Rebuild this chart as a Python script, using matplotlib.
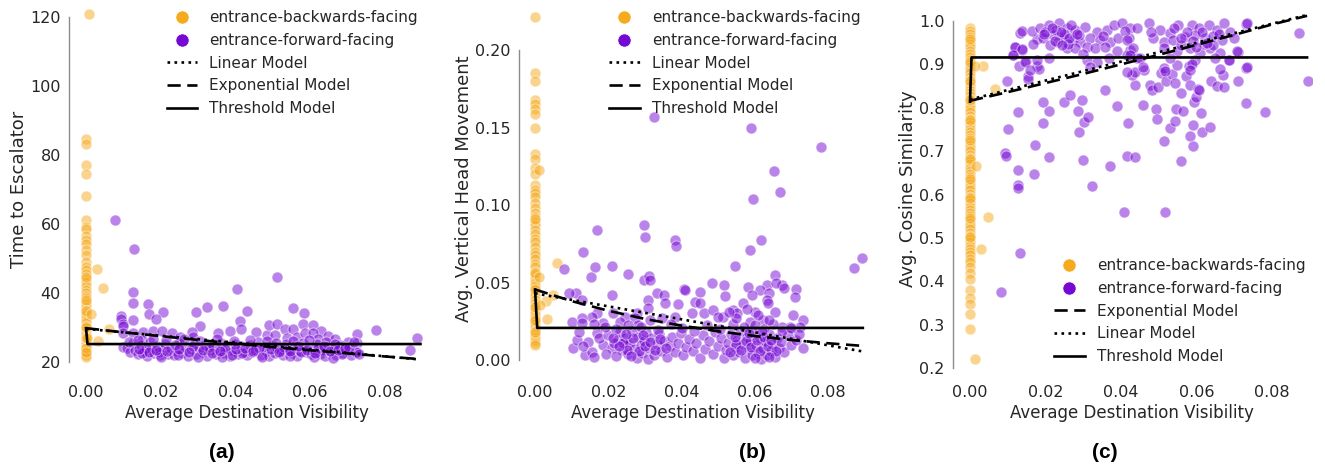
import numpy as np
import matplotlib
matplotlib.use("Agg")
import matplotlib.pyplot as plt
from matplotlib.lines import Line2D

ORANGE = "#F6AB1E"
PURPLE = "#7608D4"
TXT = "#262626"

# ---------------- panel (a): time to escalator ----------------
a_back_col_y = [84.5, 83.2, 77.2, 74.5, 68.0, 61.2, 59.0, 58.5, 56.5, 55.5, 54.2, 52.5, 51.0, 49.0,
                47.5, 46.8, 45.5, 44.0, 43.2, 42.0, 41.0, 40.0, 39.2, 38.5, 37.5, 36.8, 36.0, 35.0,
                34.2, 33.5, 32.8, 32.0, 31.2, 30.5, 29.8, 29.0, 28.2, 27.5, 26.8, 26.0, 25.5, 25.0,
                24.5, 24.0, 23.5, 23.0, 22.5, 22.0, 21.5, 44.5, 38.0, 34.8, 30.0, 27.0, 24.2, 22.8]
a_back_off = [(0.0008, 120.8), (0.0029, 46.9), (0.0046, 41.4), (0.0013, 33.9), (0.0062, 29.6),
              (0.0031, 26.2), (0.0003, 27.0)]
a_fwd = [(0.0078, 61.2), (0.0128, 52.7), (0.0403, 41.1), (0.0512, 44.5), (0.0127, 40.2), (0.0126, 37.2),
         (0.0167, 36.8), (0.0169, 33.9), (0.0207, 34.4), (0.0188, 32.4), (0.0093, 33.3), (0.0094, 32.4),
         (0.0100, 31.0), (0.0125, 32.2), (0.0100, 30.4), (0.0294, 34.4), (0.0323, 35.9), (0.0366, 36.2),
         (0.0432, 34.9), (0.0412, 32.0), (0.0305, 30.4), (0.0283, 28.8), (0.0354, 28.3), (0.0384, 29.1),
         (0.0414, 29.5), (0.0455, 28.7), (0.0483, 27.8), (0.0100, 28.3), (0.0125, 28.3), (0.0153, 28.8),
         (0.0180, 29.1), (0.0202, 29.1), (0.0229, 28.3), (0.0252, 27.3), (0.0287, 27.3), (0.0149, 26.4),
         (0.0100, 24.4), (0.0555, 35.6), (0.0584, 34.1), (0.0490, 30.7), (0.0512, 31.0), (0.0532, 29.5),
         (0.0555, 29.5), (0.0580, 31.0), (0.0607, 30.7), (0.0630, 29.0), (0.0648, 27.5), (0.0666, 26.6),
         (0.0702, 25.9), (0.0726, 28.0), (0.0726, 25.4), (0.0776, 29.3), (0.0887, 27.0), (0.0867, 23.5),
         (0.0506, 27.8), (0.0537, 26.9), (0.0564, 27.3), (0.0586, 28.3), (0.0608, 28.3), (0.0622, 26.6),
         (0.0680, 24.9), (0.0702, 23.5), (0.0724, 23.0),
         (0.0110, 24.2), (0.0118, 22.8), (0.0125, 25.5), (0.0132, 23.5), (0.0140, 22.2), (0.0148, 24.8),
         (0.0155, 23.2), (0.0162, 21.8), (0.0170, 25.9), (0.0175, 23.9), (0.0183, 22.5), (0.0190, 24.6),
         (0.0198, 22.0), (0.0205, 23.6), (0.0212, 25.2), (0.0220, 22.4), (0.0228, 24.1), (0.0235, 21.9),
         (0.0242, 23.3), (0.0250, 25.6), (0.0258, 22.7), (0.0265, 24.4), (0.0272, 21.7), (0.0280, 23.8),
         (0.0288, 25.3), (0.0295, 22.3), (0.0302, 24.0), (0.0310, 22.9), (0.0318, 25.0), (0.0325, 21.8),
         (0.0332, 23.4), (0.0340, 24.7), (0.0348, 22.2), (0.0355, 23.9), (0.0362, 25.4), (0.0370, 22.6),
         (0.0378, 24.2), (0.0385, 21.6), (0.0392, 23.1), (0.0400, 25.1), (0.0408, 22.4), (0.0415, 24.5),
         (0.0422, 23.0), (0.0430, 21.9), (0.0438, 24.9), (0.0445, 22.8), (0.0452, 23.6), (0.0460, 25.7),
         (0.0468, 22.1), (0.0475, 24.3), (0.0482, 23.2), (0.0490, 21.7), (0.0498, 25.0), (0.0505, 22.6),
         (0.0512, 24.1), (0.0520, 23.4), (0.0528, 22.0), (0.0535, 25.3), (0.0542, 23.7), (0.0550, 22.5),
         (0.0558, 24.6), (0.0565, 21.8), (0.0572, 23.3), (0.0580, 25.5), (0.0588, 22.9), (0.0595, 24.2),
         (0.0602, 22.2), (0.0610, 23.8), (0.0618, 25.1), (0.0625, 22.4), (0.0632, 23.5), (0.0640, 21.6),
         (0.0648, 24.4), (0.0655, 22.8), (0.0662, 23.9), (0.0670, 21.9), (0.0678, 24.7), (0.0688, 22.6),
         (0.0698, 23.4), (0.0710, 22.1), (0.0722, 23.0),
         (0.0115, 25.8), (0.0138, 26.5), (0.0160, 24.0), (0.0178, 26.8), (0.0195, 23.0), (0.0215, 26.3),
         (0.0238, 25.0), (0.0262, 26.7), (0.0285, 24.6), (0.0305, 26.2), (0.0328, 24.3), (0.0350, 26.6),
         (0.0373, 23.7), (0.0395, 26.0), (0.0418, 22.7), (0.0440, 26.4), (0.0463, 24.0), (0.0485, 26.1),
         (0.0508, 25.5), (0.0530, 24.4), (0.0553, 26.2), (0.0575, 22.9), (0.0598, 26.5), (0.0620, 24.0),
         (0.0643, 25.8), (0.0665, 25.2), (0.0685, 22.4), (0.0705, 24.3), (0.0718, 25.8), (0.0730, 22.3),
         (0.0245, 22.1), (0.0300, 21.5), (0.0390, 22.1), (0.0470, 21.4), (0.0545, 21.6), (0.0610, 21.5),
         (0.0660, 21.3), (0.0200, 21.4), (0.0150, 22.6), (0.0365, 21.5),
         (0.0143, 23.9), (0.0168, 22.9), (0.0187, 23.6), (0.0218, 23.1), (0.0248, 23.9), (0.0276, 22.9),
         (0.0314, 23.6), (0.0336, 22.6), (0.0358, 23.1), (0.0402, 23.8), (0.0426, 24.2), (0.0448, 23.3),
         (0.0494, 23.8), (0.0516, 22.9), (0.0547, 23.2), (0.0568, 24.5), (0.0592, 23.6), (0.0614, 22.7),
         (0.0636, 24.6), (0.0652, 23.2), (0.0674, 23.4), (0.0694, 24.0)]
a_lin_x = [0.0, 0.0885]
a_lin_y = [29.6, 20.8]
a_exp_x = [0.0, 0.01, 0.02, 0.03, 0.04, 0.05, 0.06, 0.07, 0.08, 0.0885]
a_exp_y = [29.8, 28.6, 27.5, 26.4, 25.3, 24.3, 23.4, 22.5, 21.6, 20.9]
a_thr_x = [0.0, 0.0004, 0.0895]
a_thr_y = [29.8, 25.2, 25.2]

# ---------------- panel (b): vertical head movement ----------------
b_back_col_y = [0.2215, 0.185, 0.180, 0.168, 0.165, 0.162, 0.159, 0.150, 0.133, 0.130, 0.124, 0.120,
                0.113, 0.110, 0.108, 0.105, 0.101, 0.098, 0.095, 0.092, 0.089, 0.087, 0.084, 0.081,
                0.078, 0.076, 0.073, 0.070, 0.068, 0.065, 0.062, 0.060, 0.057, 0.055, 0.052, 0.050,
                0.048, 0.045, 0.043, 0.041, 0.039, 0.037, 0.035, 0.033, 0.031, 0.029, 0.027, 0.025,
                0.023, 0.021, 0.019, 0.017, 0.015, 0.013, 0.011, 0.010, 0.091, 0.056, 0.046, 0.034,
                0.026, 0.018]
b_back_off = [(0.0010, 0.1226), (0.0061, 0.0624), (0.0048, 0.0417), (0.0030, 0.0380), (0.0032, 0.0267),
              (0.0012, 0.0538), (0.0014, 0.0355)]
b_fwd = [(0.0325, 0.1566), (0.0591, 0.1495), (0.0782, 0.1374), (0.0653, 0.1219), (0.0670, 0.1086),
         (0.0595, 0.1041), (0.0618, 0.0772), (0.0586, 0.0708), (0.0297, 0.0871), (0.0299, 0.0796),
         (0.0383, 0.0772), (0.0386, 0.0738), (0.0168, 0.0839), (0.0130, 0.0695), (0.0894, 0.0660),
         (0.0871, 0.0596), (0.0545, 0.0606), (0.0079, 0.0589), (0.0163, 0.0598), (0.0210, 0.0609),
         (0.0253, 0.0553), (0.0153, 0.0535), (0.0297, 0.0516), (0.0312, 0.0542), (0.0315, 0.0516),
         (0.0655, 0.0551), (0.0675, 0.0484), (0.0632, 0.0484), (0.0581, 0.0473), (0.0482, 0.0495),
         (0.0515, 0.0484), (0.0407, 0.0456), (0.0712, 0.0460), (0.0709, 0.0409), (0.0112, 0.0434),
         (0.0094, 0.0434), (0.0209, 0.0419), (0.0332, 0.0430), (0.0352, 0.0420), (0.0614, 0.0450),
         (0.0639, 0.0430), (0.0732, 0.0260), (0.0732, 0.0075),
         (0.0127, 0.0387), (0.0309, 0.0387), (0.0355, 0.0366), (0.0391, 0.0361), (0.0437, 0.0376),
         (0.0460, 0.0301), (0.0428, 0.0301), (0.0309, 0.0333), (0.0278, 0.0301), (0.0246, 0.0280),
         (0.0214, 0.0301), (0.0168, 0.0301), (0.0155, 0.0280), (0.0127, 0.0269), (0.0100, 0.0247),
         (0.0127, 0.0237), (0.0186, 0.0237), (0.0232, 0.0247), (0.0273, 0.0269), (0.0314, 0.0258),
         (0.0346, 0.0269), (0.0382, 0.0280), (0.0282, 0.0226), (0.0410, 0.0452), (0.0450, 0.0441),
         (0.0658, 0.0495), (0.0680, 0.0462), (0.0519, 0.0413), (0.0592, 0.0419), (0.0633, 0.0387),
         (0.0451, 0.0370), (0.0487, 0.0323), (0.0541, 0.0323), (0.0569, 0.0366), (0.0601, 0.0312),
         (0.0637, 0.0366), (0.0655, 0.0312), (0.0705, 0.0290), (0.0514, 0.0280), (0.0551, 0.0301),
         (0.0587, 0.0247), (0.0623, 0.0258), (0.0674, 0.0215), (0.0696, 0.0215), (0.0724, 0.0215),
         (0.0105, 0.0075), (0.0114, 0.0129), (0.0137, 0.0032), (0.0146, 0.0118), (0.0155, 0.0054),
         (0.0168, 0.0172), (0.0186, 0.0097), (0.0209, 0.0075), (0.0227, 0.0129), (0.0237, 0.0065),
         (0.0250, 0.0097), (0.0120, 0.0180), (0.0130, 0.0090), (0.0160, 0.0020), (0.0175, 0.0140),
         (0.0195, 0.0040), (0.0200, 0.0160), (0.0215, 0.0110), (0.0222, 0.0025), (0.0232, 0.0180),
         (0.0245, 0.0140), (0.0255, 0.0040), (0.0260, 0.0115), (0.0265, 0.0190), (0.0270, 0.0070),
         (0.0278, 0.0010), (0.0282, 0.0150), (0.0288, 0.0100), (0.0292, 0.0045), (0.0298, 0.0125),
         (0.0303, 0.0180), (0.0308, 0.0005), (0.0312, 0.0080), (0.0318, 0.0140), (0.0325, 0.0035),
         (0.0332, 0.0105), (0.0338, 0.0165), (0.0345, 0.0060), (0.0352, 0.0120), (0.0360, 0.0020),
         (0.0368, 0.0090), (0.0375, 0.0150), (0.0382, 0.0050), (0.0390, 0.0110), (0.0398, 0.0175),
         (0.0405, 0.0030), (0.0412, 0.0085), (0.0420, 0.0135), (0.0430, 0.0060), (0.0440, 0.0110),
         (0.0450, 0.0010), (0.0458, 0.0160), (0.0465, 0.0070), (0.0475, 0.0120), (0.0485, 0.0040),
         (0.0492, 0.0180), (0.0500, 0.0090), (0.0508, 0.0140), (0.0515, 0.0015), (0.0522, 0.0065),
         (0.0528, 0.0110), (0.0535, 0.0170), (0.0540, 0.0030), (0.0546, 0.0085), (0.0552, 0.0130),
         (0.0558, 0.0050), (0.0563, 0.0190), (0.0568, 0.0105), (0.0572, 0.0010), (0.0578, 0.0150),
         (0.0583, 0.0070), (0.0588, 0.0120), (0.0593, 0.0030), (0.0598, 0.0175), (0.0603, 0.0095),
         (0.0608, 0.0045), (0.0613, 0.0140), (0.0618, 0.0005), (0.0622, 0.0080), (0.0628, 0.0120),
         (0.0633, 0.0035), (0.0638, 0.0165), (0.0643, 0.0060), (0.0648, 0.0105), (0.0655, 0.0020),
         (0.0660, 0.0145), (0.0665, 0.0075), (0.0672, 0.0115), (0.0680, 0.0050), (0.0690, 0.0160),
         (0.0700, 0.0095), (0.0712, 0.0130), (0.0720, 0.0170),
         (0.0160, 0.0230), (0.0190, 0.0210), (0.0220, 0.0200), (0.0255, 0.0225), (0.0290, 0.0215),
         (0.0335, 0.0195), (0.0370, 0.0230), (0.0400, 0.0205), (0.0435, 0.0190), (0.0470, 0.0225),
         (0.0505, 0.0200), (0.0540, 0.0235), (0.0570, 0.0210), (0.0600, 0.0225), (0.0625, 0.0200),
         (0.0650, 0.0235), (0.0675, 0.0190), (0.0700, 0.0205), (0.0550, 0.0270), (0.0610, 0.0290),
         (0.0530, 0.0310), (0.0640, 0.0260), (0.0580, 0.0330), (0.0500, 0.0280),
         (0.0240, 0.0110), (0.0252, 0.0065), (0.0268, 0.0140), (0.0285, 0.0060), (0.0295, 0.0160),
         (0.0300, 0.0090), (0.0315, 0.0115), (0.0328, 0.0065), (0.0262, 0.0025), (0.0248, 0.0170),
         (0.0230, 0.0090), (0.0212, 0.0140), (0.0342, 0.0135), (0.0358, 0.0075), (0.0550, 0.0105),
         (0.0562, 0.0065), (0.0575, 0.0125), (0.0590, 0.0085), (0.0605, 0.0130), (0.0615, 0.0060),
         (0.0625, 0.0150), (0.0635, 0.0090), (0.0645, 0.0130), (0.0658, 0.0055), (0.0585, 0.0175),
         (0.0620, 0.0185), (0.0532, 0.0050), (0.0545, 0.0150), (0.0600, 0.0015), (0.0640, 0.0020)]
b_lin_x = [0.0, 0.0895]
b_lin_y = [0.0430, 0.0055]
b_exp_x = [0.0, 0.01, 0.02, 0.03, 0.04, 0.05, 0.06, 0.07, 0.08, 0.0895]
b_exp_y = [0.0455, 0.0380, 0.0318, 0.0265, 0.0222, 0.0185, 0.0155, 0.0129, 0.0108, 0.0091]
b_thr_x = [0.0, 0.0006, 0.0895]
b_thr_y = [0.0455, 0.0207, 0.0207]

# ---------------- panel (c): cosine similarity ----------------
c_back_col_y = [0.985, 0.978, 0.970, 0.962, 0.955, 0.948, 0.940, 0.932, 0.925, 0.918, 0.910, 0.902,
                0.895, 0.887, 0.880, 0.872, 0.865, 0.857, 0.850, 0.842, 0.835, 0.828, 0.820, 0.812,
                0.805, 0.797, 0.790, 0.782, 0.775, 0.767, 0.760, 0.752, 0.745, 0.737, 0.730, 0.722,
                0.715, 0.707, 0.700, 0.692, 0.685, 0.677, 0.670, 0.662, 0.655, 0.647, 0.640, 0.632,
                0.625, 0.617, 0.610, 0.602, 0.595, 0.587, 0.580, 0.572, 0.565, 0.557, 0.550, 0.542,
                0.535, 0.527, 0.520, 0.512, 0.505, 0.497, 0.490, 0.482, 0.475, 0.467, 0.460, 0.452,
                0.445, 0.432, 0.418, 0.405, 0.380, 0.362, 0.348, 0.325, 0.290, 0.958, 0.905, 0.862,
                0.818, 0.771, 0.726, 0.681, 0.636, 0.591, 0.546, 0.501]
c_back_off = [(0.0034, 0.896), (0.0065, 0.843), (0.0016, 0.666), (0.0048, 0.549), (0.0030, 0.475),
              (0.0012, 0.221), (0.0012, 0.896)]
c_fwd = [(0.0082, 0.376), (0.0133, 0.465), (0.0408, 0.560), (0.0517, 0.560), (0.0324, 0.620),
         (0.0126, 0.623), (0.0128, 0.615), (0.0126, 0.656), (0.0169, 0.647), (0.0299, 0.679),
         (0.0210, 0.687), (0.0370, 0.666), (0.0415, 0.689), (0.0436, 0.686), (0.0560, 0.678),
         (0.0093, 0.695), (0.0096, 0.688), (0.0171, 0.714), (0.0290, 0.743), (0.0101, 0.752),
         (0.0127, 0.790), (0.0193, 0.766), (0.0210, 0.792), (0.0194, 0.814), (0.0248, 0.814),
         (0.0266, 0.829), (0.0296, 0.819), (0.0286, 0.792), (0.0301, 0.768), (0.0312, 0.778),
         (0.0358, 0.840), (0.0389, 0.804), (0.0418, 0.764), (0.0438, 0.852), (0.0429, 0.875),
         (0.0458, 0.806), (0.0460, 0.886), (0.0477, 0.852), (0.0482, 0.840), (0.0492, 0.798),
         (0.0495, 0.773), (0.0499, 0.848), (0.0507, 0.879), (0.0514, 0.723), (0.0519, 0.861),
         (0.0530, 0.754), (0.0536, 0.877), (0.0543, 0.770), (0.0546, 0.796), (0.0543, 0.856),
         (0.0548, 0.898), (0.0560, 0.833), (0.0563, 0.793), (0.0571, 0.873), (0.0580, 0.896),
         (0.0583, 0.735), (0.0590, 0.712), (0.0590, 0.760), (0.0583, 0.852), (0.0594, 0.814),
         (0.0598, 0.825), (0.0603, 0.844), (0.0608, 0.842), (0.0612, 0.787), (0.0614, 0.745),
         (0.0635, 0.756), (0.0638, 0.861), (0.0654, 0.850), (0.0674, 0.847), (0.0670, 0.875),
         (0.0709, 0.861), (0.0732, 0.892), (0.0732, 0.811), (0.0782, 0.791), (0.0895, 0.862),
         (0.0872, 0.972), (0.0732, 0.992), (0.0709, 0.929), (0.0685, 0.910), (0.0097, 0.861),
         (0.0131, 0.896), (0.0148, 0.908), (0.0153, 0.873), (0.0155, 0.866), (0.0177, 0.896),
         (0.0182, 0.890), (0.0115, 0.922), (0.0120, 0.940), (0.0137, 0.934), (0.0133, 0.973),
         (0.0177, 0.959),
         (0.0137, 0.977), (0.0164, 0.977), (0.0186, 0.983), (0.0210, 0.991), (0.0237, 0.995),
         (0.0256, 0.983), (0.0278, 0.979), (0.0305, 0.987), (0.0336, 0.975), (0.0362, 0.979),
         (0.0382, 0.991), (0.0402, 0.995), (0.0424, 0.983), (0.0119, 0.941), (0.0137, 0.935),
         (0.0113, 0.922), (0.0168, 0.946), (0.0194, 0.960), (0.0221, 0.968), (0.0247, 0.964),
         (0.0272, 0.956), (0.0292, 0.952), (0.0318, 0.960), (0.0345, 0.956), (0.0371, 0.952),
         (0.0393, 0.960), (0.0420, 0.960), (0.0256, 0.937), (0.0278, 0.937), (0.0309, 0.941),
         (0.0331, 0.937), (0.0358, 0.941), (0.0389, 0.930), (0.0424, 0.933), (0.0146, 0.906),
         (0.0177, 0.910), (0.0208, 0.914), (0.0159, 0.887), (0.0309, 0.910), (0.0336, 0.906),
         (0.0367, 0.914), (0.0416, 0.922), (0.0442, 0.914), (0.0318, 0.895), (0.0438, 0.883),
         (0.0200, 0.975), (0.0228, 0.980), (0.0250, 0.970), (0.0268, 0.990), (0.0290, 0.968),
         (0.0232, 0.952), (0.0212, 0.945), (0.0260, 0.948), (0.0352, 0.965), (0.0300, 0.925),
         (0.0411, 0.977), (0.0442, 0.983), (0.0473, 0.995), (0.0504, 0.979), (0.0530, 0.972),
         (0.0552, 0.991), (0.0588, 0.991), (0.0608, 0.983), (0.0632, 0.991), (0.0654, 0.979),
         (0.0672, 0.996), (0.0689, 0.975), (0.0734, 0.995), (0.0486, 0.960), (0.0513, 0.952),
         (0.0539, 0.956), (0.0570, 0.964), (0.0597, 0.968), (0.0623, 0.960), (0.0645, 0.966),
         (0.0667, 0.956), (0.0416, 0.956), (0.0433, 0.937), (0.0424, 0.922), (0.0513, 0.937),
         (0.0548, 0.930), (0.0583, 0.937), (0.0610, 0.926), (0.0636, 0.937), (0.0663, 0.926),
         (0.0707, 0.931), (0.0451, 0.914), (0.0530, 0.914), (0.0597, 0.910), (0.0650, 0.914),
         (0.0685, 0.910), (0.0459, 0.895), (0.0513, 0.891), (0.0588, 0.900), (0.0734, 0.895),
         (0.0415, 0.883), (0.0517, 0.885), (0.0583, 0.887), (0.0663, 0.890), (0.0560, 0.945),
         (0.0620, 0.948), (0.0575, 0.975), (0.0645, 0.945), (0.0700, 0.960), (0.0480, 0.975),
         (0.0225, 0.955), (0.0240, 0.975), (0.0262, 0.960), (0.0283, 0.970), (0.0245, 0.945),
         (0.0218, 0.985), (0.0195, 0.970), (0.0560, 0.960), (0.0590, 0.955), (0.0615, 0.975),
         (0.0628, 0.950), (0.0660, 0.970), (0.0600, 0.940), (0.0540, 0.985)]
c_lin_x = [0.0, 0.0893]
c_lin_y = [0.819, 1.014]
c_exp_x = [0.0, 0.01, 0.02, 0.03, 0.04, 0.05, 0.06, 0.07, 0.08, 0.0893]
c_exp_y = [0.816, 0.836, 0.857, 0.878, 0.900, 0.922, 0.945, 0.968, 0.992, 1.012]
c_thr_x = [0.0, 0.0004, 0.0893]
c_thr_y = [0.814, 0.916, 0.916]

x_ticks = [0.0, 0.02, 0.04, 0.06, 0.08]

plt.rcParams.update({"font.family": "DejaVu Sans", "text.color": TXT, "xtick.color": TXT,
                     "ytick.color": TXT, "axes.labelcolor": TXT})

fig = plt.figure(figsize=(13.25, 4.72), dpi=100)


def px_axes(L, R, T, B):
    return fig.add_axes([L / 1325, 1 - B / 472, (R - L) / 1325, (B - T) / 472])


def panel(ax, back_col, back_off, fwd, models, xlim, ylim, yticks, yfmt, ylabel, leg_order, leg_loc):
    bx = [0.0] * len(back_col) + [p[0] for p in back_off]
    by = list(back_col) + [p[1] for p in back_off]
    fx = [p[0] for p in fwd]
    fy = [p[1] for p in fwd]
    ax.scatter(bx, by, s=62, color=ORANGE, alpha=0.5, edgecolor="white", linewidth=0.7, zorder=2)
    ax.scatter(fx, fy, s=62, color=PURPLE, alpha=0.5, edgecolor="white", linewidth=0.7, zorder=2)
    styles = {"Linear Model": ":", "Exponential Model": (0, (5, 2.5)), "Threshold Model": "-"}
    for name, (mx, my) in models.items():
        ax.plot(mx, my, color="black", lw=1.9, ls=styles[name], zorder=3)
    ax.set_xlim(*xlim); ax.set_ylim(*ylim)
    ax.set_xticks(x_ticks)
    ax.set_xticklabels([f"{t:.2f}" for t in x_ticks])
    ax.set_yticks(yticks)
    ax.set_yticklabels([yfmt.format(t) for t in yticks])
    ax.tick_params(axis="both", length=0, labelsize=11.5)
    ax.tick_params(axis="x", pad=11)
    ax.tick_params(axis="y", pad=6)
    for s in ["top", "right", "bottom"]:
        ax.spines[s].set_visible(False)
    ax.spines["left"].set_color("0.55")
    ax.spines["left"].set_linewidth(1.0)
    ax.spines["left"].set_bounds(yticks[0], yticks[-1])
    ax.set_xlabel("Average Destination Visibility", fontsize=12, labelpad=3)
    ax.set_ylabel(ylabel, fontsize=13)
    handles = {
        "entrance-backwards-facing": Line2D([], [], ls="", marker="o", ms=9.5, color=ORANGE, mec="white", mew=0.5),
        "entrance-forward-facing": Line2D([], [], ls="", marker="o", ms=9.5, color=PURPLE, mec="white", mew=0.5),
        "Linear Model": Line2D([], [], color="black", ls=":", lw=1.9),
        "Exponential Model": Line2D([], [], color="black", ls=(0, (5, 2.5)), lw=1.9),
        "Threshold Model": Line2D([], [], color="black", ls="-", lw=1.9),
    }
    if leg_loc == "upper right":
        anchor = (1.0, 1.01)
    else:
        anchor = (1.0, 0.0)
    ax.legend([handles[k] for k in leg_order], leg_order, loc=leg_loc, bbox_to_anchor=anchor,
              frameon=False, fontsize=11, borderaxespad=0.0, handlelength=2.0, handletextpad=0.8)


order1 = ["entrance-backwards-facing", "entrance-forward-facing", "Linear Model", "Exponential Model", "Threshold Model"]
order2 = ["entrance-backwards-facing", "entrance-forward-facing", "Exponential Model", "Linear Model", "Threshold Model"]

ax1 = px_axes(69.2, 424.2, 8, 370)
panel(ax1, a_back_col_y, a_back_off, a_fwd,
      {"Linear Model": (a_lin_x, a_lin_y), "Exponential Model": (a_exp_x, a_exp_y), "Threshold Model": (a_thr_x, a_thr_y)},
      (-0.0045, 0.0905), (17.68, 122.6), [20, 40, 60, 80, 100, 120], "{:.0f}", "Time to Escalator", order1, "upper right")
ax1.yaxis.set_label_coords(-0.115, 0.5)

ax2 = px_axes(518.9, 866.5, 8, 370)
panel(ax2, b_back_col_y, b_back_off, b_fwd,
      {"Linear Model": (b_lin_x, b_lin_y), "Exponential Model": (b_exp_x, b_exp_y), "Threshold Model": (b_thr_x, b_thr_y)},
      (-0.0044, 0.0905), (-0.00645, 0.2271), [0.0, 0.05, 0.10, 0.15, 0.20], "{:.2f}",
      "Avg. Vertical Head Movement", order1, "upper right")
ax2.yaxis.set_label_coords(-0.132, 0.5)

ax3 = px_axes(953.0, 1311.6, 8, 370)
panel(ax3, c_back_col_y, c_back_off, c_fwd,
      {"Exponential Model": (c_exp_x, c_exp_y), "Linear Model": (c_lin_x, c_lin_y), "Threshold Model": (c_thr_x, c_thr_y)},
      (-0.0045, 0.0905), (0.1954, 1.030), [0.2, 0.3, 0.4, 0.5, 0.6, 0.7, 0.8, 0.9, 1.0], "{:.1f}",
      "Avg. Cosine Similarity", order2, "lower right")
ax3.yaxis.set_label_coords(-0.100, 0.5)

for lab, xc in [("(a)", 222), ("(b)", 752), ("(c)", 1105)]:
    fig.text(xc / 1325, 1 - 452 / 472, lab, ha="center", va="center", fontsize=15,
             fontweight="bold", family="Liberation Sans", color="black")

fig.savefig("out.png", dpi=100)
